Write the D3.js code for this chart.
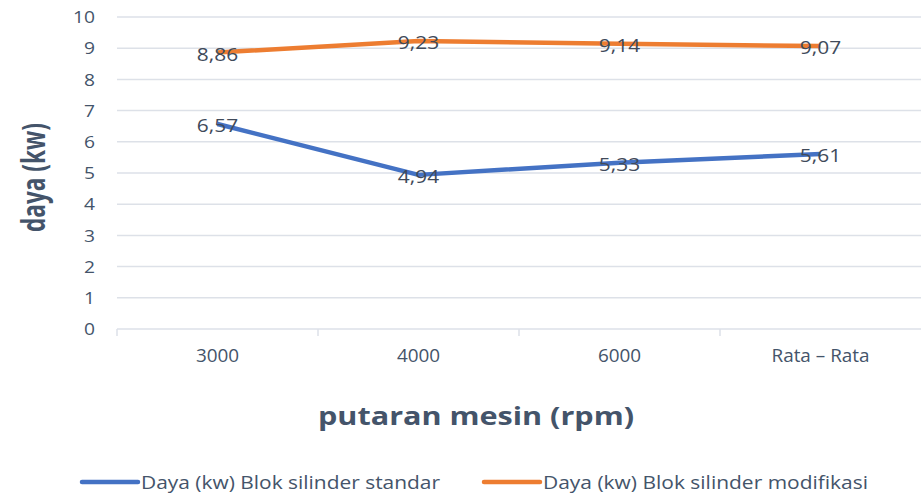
<!DOCTYPE html>
<html><head><meta charset="utf-8">
<script src="https://cdn.jsdelivr.net/npm/d3@7"></script>
<style>body{margin:0;background:#fff}svg{display:block}</style>
</head><body>
<svg id="c" width="921" height="496"></svg>
<script>
const categories = ["3000", "4000", "6000", "Rata \u2013 Rata"];
const standar = [6.57, 4.94, 5.33, 5.61];
const modifikasi = [8.86, 9.23, 9.14, 9.07];
const yTicks = [0,1,2,3,4,5,6,7,8,9,10];
const seriesNames = ["Daya (kw) Blok silinder standar", "Daya (kw) Blok silinder modifikasi"];
const colors = ["#4472c4", "#ed7d31"];

const svg = d3.select("#c");
const pLeft = 117, pRight = 921, pTop = 17, pBottom = 329;
const x = d3.scaleBand().domain(categories).range([pLeft, pRight]);
const y = d3.scaleLinear().domain([0, 10]).range([pBottom, pTop]);
const txt = "#44546a";
const FONT = "Open Sans";

function stretch(sel, f) {
  sel.each(function() {
    const w = this.getComputedTextLength();
    d3.select(this).attr("textLength", w * f).attr("lengthAdjust", "spacingAndGlyphs");
  });
}

// gridlines
svg.append("g").selectAll("line").data(yTicks).join("line")
  .attr("x1", pLeft).attr("x2", pRight)
  .attr("y1", d => y(d)).attr("y2", d => y(d))
  .attr("stroke", "#dde1e8").attr("stroke-width", 1.5);

// y labels
const yl = svg.append("g").selectAll("text").data(yTicks).join("text")
  .attr("x", 95).attr("y", d => y(d)).attr("dy", "0.36em")
  .attr("text-anchor", "end").attr("fill", txt)
  .attr("font-family", FONT).attr("font-size", 17)
  .text(d => d);
stretch(yl, 1.13);

// x axis
const xa = d3.axisBottom(x).tickSize(0).tickSizeOuter(0);
const gx = svg.append("g").attr("transform", `translate(0,${pBottom})`).call(xa);
gx.select(".domain").remove();
gx.selectAll(".tick line").remove();
const bounds = [pLeft].concat(categories.map(c => x(c) + x.bandwidth()));
svg.append("g").selectAll("line").data(bounds.slice(0, -1)).join("line")
  .attr("x1", d => d).attr("x2", d => d).attr("y1", pBottom).attr("y2", pBottom + 7)
  .attr("stroke", "#dde1e8").attr("stroke-width", 1.5);
const xt = gx.selectAll(".tick text").attr("y", 33).attr("dy", 0)
  .attr("fill", txt).attr("font-family", FONT).attr("font-size", 18);
stretch(xt, 1.05);

// axis titles
svg.append("text").attr("x", 318).attr("y", 425)
  .attr("fill", txt).attr("font-family", FONT).attr("font-weight", "bold")
  .attr("font-size", 25).attr("textLength", 316).attr("lengthAdjust", "spacingAndGlyphs")
  .text("putaran mesin (rpm)");
svg.append("text").attr("transform", "translate(45,232) rotate(-90)")
  .attr("fill", txt).attr("font-family", FONT)
  .attr("font-weight", "bold").attr("font-size", 32)
  .attr("textLength", 109).attr("lengthAdjust", "spacingAndGlyphs").text("daya (kw)");

// lines
const line = d3.line().x((d, i) => x(categories[i]) + x.bandwidth() / 2).y(d => y(d));
[standar, modifikasi].forEach((s, k) => {
  svg.append("path").datum(s).attr("d", line).attr("fill", "none")
    .attr("stroke", colors[k]).attr("stroke-width", 4.5).attr("stroke-linejoin", "round");
});
// labels
[standar, modifikasi].forEach((s, k) => {
  const t = svg.append("g").selectAll("text").data(s).join("text")
    .attr("x", (d, i) => x(categories[i]) + x.bandwidth() / 2)
    .attr("y", d => y(d)).attr("dy", "0.47em").attr("text-anchor", "middle")
    .attr("fill", "#404a5a").attr("font-family", FONT).attr("font-size", 18)
    .text(d => d.toFixed(2).replace(".", ","));
  stretch(t, 1.16);
});

// legend
const leg = [{x1: 82, x2: 138, tx: 141, w: 299}, {x1: 484, x2: 540, tx: 543, w: 325}];
leg.forEach((l, k) => {
  svg.append("line").attr("x1", l.x1).attr("x2", l.x2).attr("y1", 482).attr("y2", 482)
    .attr("stroke", colors[k]).attr("stroke-width", 4.5).attr("stroke-linecap", "round");
  svg.append("text").attr("x", l.tx).attr("y", 489)
    .attr("fill", txt).attr("font-family", FONT).attr("font-size", 19)
    .attr("textLength", l.w).attr("lengthAdjust", "spacingAndGlyphs")
    .text(seriesNames[k]);
});
</script>
</body></html>
